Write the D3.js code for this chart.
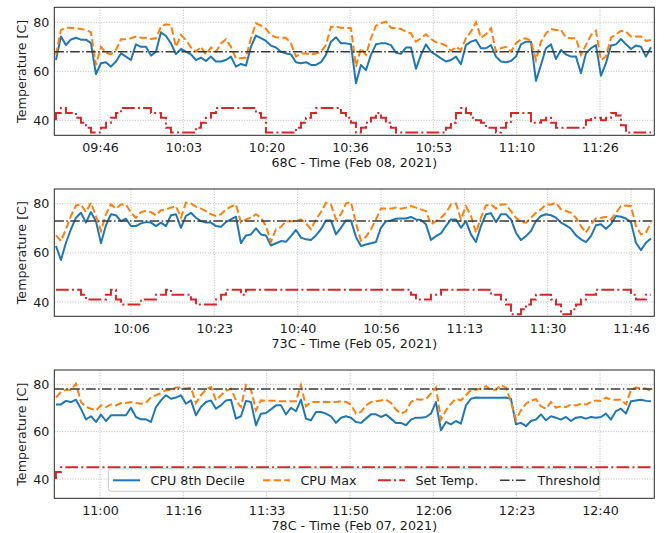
<!DOCTYPE html>
<html><head><meta charset="utf-8">
<script src="https://cdn.jsdelivr.net/npm/d3@7"></script>
<style>body{margin:0;background:#fff}svg{display:block}text{font-family:"DejaVu Sans",sans-serif;fill:#1a1a1a}</style>
</head><body><svg id="chart" width="672" height="533"></svg>
<script>
// ---------- DATA ----------
const seriesNames = ["CPU 8th Decile", "CPU Max", "Set Temp.", "Threshold"];
const sampleOffset = 0.33;   // minutes from left edge of first sample
const sampleStep = 1;        // minutes between samples
const yTicks = [40, 60, 80];

const p1Title = "68C - Time (Feb 08, 2021)";
const p1Threshold = 68;
const p1TickLabels = ["09:46", "10:03", "10:20", "10:36", "10:53", "11:10", "11:26"];
const p1TickMinutes = [9.14, 25.81, 42.47, 59.14, 75.81, 92.47, 109.14];
const p1Decile = [64.6,74.2,70.7,73,73.7,72.9,72.9,71.5,58.9,63.3,63.7,61.9,64,67.3,66,64.6,71,70,70,66.4,68,75.9,74.4,71.4,67,69.1,68,66.9,64.6,65.6,64.2,66,64,64,64.6,66,61.9,63,62.3,70,74.6,73.5,72.4,70.5,69.7,68,67.3,66.9,63.7,63.3,63.7,62.6,62.6,63.7,66.7,72.1,73.9,71.4,71.4,71,55.1,62.6,60.5,66.7,71,71.4,71.4,70.7,67.6,67.1,69.7,69.7,61,66.7,71,68,66.7,65.3,64,64.6,66,62.9,70.7,72.1,72.8,69.4,69.4,70.7,66,64,63.7,64.2,66,71,72.1,72.1,56.1,62.6,69.4,71,65,68.7,66.9,66,66,59.2,67.3,69.4,70.7,58.2,63.3,70.5,71,73.2,71,69.1,70.5,70,66,69.8];
const p1Max = [66.7,76.9,77.8,77.8,77.6,77.3,76.9,75.9,62.6,70,67.6,66.9,68.7,73.1,73.1,73.5,74.2,73.7,73.7,73.2,73.5,78.2,79.2,78.9,70,74.8,72.8,69.7,68,70,66.9,69.7,68,71.4,73.1,70,65.3,65.3,65.6,73.5,79.6,78.6,77.3,74.8,73.9,73.7,73.7,71.4,66,67.3,67.3,66.9,67.3,68,70.7,78.2,78.2,77.8,77.8,77.6,61.9,69.4,66.7,73.5,78.6,79.6,80.3,77.8,77.6,77.3,76.2,75.5,72.1,73.5,75.1,73.2,71.8,71.4,70.5,68.3,70,68.7,73.5,76.2,80,73.7,75.1,77.6,68,69.4,70,68,71.4,73.1,73.5,72.4,64.6,72.1,75.5,77.3,76.9,76.9,73.7,73.5,73.5,66.7,70.7,74.8,76.5,64.6,66,73.7,75.1,76.5,76.2,74.2,74.2,74.2,72.4,72.8];
const p1Set = [40,43,45,43,43,41,39,37,35,35,37,39,41,43,45,45,45,45,45,45,43,43,41,37,35,35,35,35,35,37,39,41,43,45,45,45,45,45,45,45,45,43,41,35,35,35,35,35,35,37,39,41,43,45,45,45,45,45,43,41,39,35,37,39,41,43,41,39,37,35,35,35,35,35,35,35,35,35,35,37,39,43,45,43,41,40,39,37,37,35,37,39,43,43,43,43,39,39,40,41,39,37,37,37,37,37,37,40,41,41,40,41,43,42,38,35,35,35,35,35];

const p2Title = "73C - Time (Feb 05, 2021)";
const p2Threshold = 73;
const p2TickLabels = ["10:06", "10:23", "10:40", "10:56", "11:13", "11:30", "11:46"];
const p2TickMinutes = [15.34, 32.01, 48.67, 65.34, 82.01, 98.67, 115.34];
const p2Decile = [62.8,57.1,64.1,69.6,74.3,76.3,72.3,76.6,72.9,63.9,71.2,75.7,75.3,72.9,73.9,70.9,70.9,72,72.5,72.3,70.9,72.3,70.9,75.3,75.7,70.2,75,76.3,74.3,72.9,72.3,72.3,70.9,70.6,72.5,73.6,74.7,63.9,67.1,67.5,70,67.5,67.1,63,63.9,64.8,64.5,66.8,69.3,66.2,65.5,65.2,67.1,69.6,73.2,73.2,67.5,70.2,73.2,73.2,66.5,62.8,63.4,63.9,64.4,70.2,72.9,73.2,73.9,74,74,74.6,73.6,73.4,71.6,65.2,66.8,67.9,70.9,73.6,73.6,70.2,72.9,67.5,64.4,70.9,75.7,76.1,72.5,75.7,75.7,73.6,68.2,65.2,66.8,68.9,72.9,75,75.7,75.3,74.3,72.3,71.2,69.8,67.1,65.5,64.4,66.8,71.2,71.6,69.8,71.6,75,74.7,74,72.5,64.1,61.1,64.1,65.8];
const p2Max = [67.1,64.8,69.6,75,79.3,79.7,76.6,80.4,75,68.9,75.7,79.7,78,79.7,79.7,76.3,74.3,76.6,77,76.6,75.3,77.4,77.7,78.4,79,74.3,80.4,80.1,78.8,78,77,75.7,75,75.7,77.7,78.8,79.7,72.3,73.6,74.3,75.7,74.3,70.9,64.4,69.6,70.6,72.9,72.9,72.9,73.6,72,69.6,73.6,76.6,80.4,79.7,73.6,75.7,80.1,80.7,72,65,66.5,69.6,73.6,78,78,78,78.4,78,78.4,79,78.4,77.7,77,71.6,72.9,74.3,76.3,79.7,80.1,73.6,79,75,68.2,74.3,79.3,79.7,78,79.7,79.7,77,74.3,72.5,72.3,74.3,76.3,77.7,79.7,79.7,80.4,77.7,77,76.3,74.3,70.9,68.2,71.6,74,74.3,74.7,73.6,76.3,79,79.3,79,70.9,67.5,68.2,72.3];
const p2Set = [45,45,45,45,45,45,43,41,41,41,41,43,45,41,39,39,39,39,41,41,41,43,43,45,43,43,43,43,41,39,39,39,39,41,43,45,45,45,43,45,45,45,45,45,45,45,45,45,45,45,45,45,45,45,45,45,45,45,45,45,45,45,45,45,45,45,45,45,45,45,45,45,43,41,41,41,43,43,45,45,45,45,45,45,45,45,45,45,43,43,41,39,35,35,37,39,41,43,43,43,41,39,35,35,37,39,41,43,43,45,45,45,45,45,45,45,43,41,41,43];

const p3Title = "78C - Time (Feb 07, 2021)";
const p3Threshold = 78;
const p3TickLabels = ["11:00", "11:16", "11:33", "11:50", "12:06", "12:23", "12:40"];
const p3TickMinutes = [9.14, 25.81, 42.47, 59.14, 75.81, 92.47, 109.14];
const p3Decile = [71.5,71.5,73,72.5,73.5,69.7,65.2,66.5,64.1,67.2,64.5,66.9,66.9,66.9,66.9,70.1,66.2,65.2,65.2,64.1,70.4,73.2,75.4,73.9,74.4,75.4,71.8,73.2,66.9,70.4,72.5,73.2,69.7,71.1,73.2,73.5,65.5,66.5,73,72.5,62.7,67.6,67.9,69.4,71.1,71.1,67.3,70.1,68.6,73.5,65.5,64.8,68.3,68.3,67.6,66.5,63.7,65.9,66.5,65.9,64.1,63.7,65.5,67.3,67.3,66.2,67.2,65.5,63.7,63.7,62.7,65.1,65.9,65.9,66.2,67.6,72.5,60.6,64.1,63.1,64.5,63.4,71.1,73.9,74.4,74.3,74.3,74.3,74.3,74.3,74.4,73.9,63.1,63.7,62.3,64.5,65.1,67.3,64.8,66.5,65.9,65.1,66.2,64.5,65.9,66.2,65.5,66.2,65.9,66.2,67.6,65.1,68.7,69.7,67.6,72.8,73.2,73.5,73,72.8];
const p3Max = [74.4,76.8,77.7,77.7,80.3,72.5,70.4,69.7,69,71.1,70.4,71.5,71.1,72.1,72.1,72.5,72.1,71.8,72.1,74.6,75.4,76.3,77.5,77.7,78.6,78.6,78.2,78.6,72.1,75.4,77.7,78.9,73.2,75.4,77.2,78.2,73.2,70.4,79.6,77.7,69,73.2,73,73,73,72.8,72.8,72.8,72.8,79.6,70.7,72.5,72.5,72.5,72.5,72.5,72.5,72.8,72.5,71.5,67.6,68.3,71.1,72.5,72.8,73.2,73.5,72.1,69.3,67.6,68.6,72.5,73.7,73.5,73.8,76.1,78.6,65.1,69,71.8,73.9,73.2,75.4,77.7,77.7,78.2,79.2,77.7,77.7,79.6,78.6,72.5,65.1,69,71.8,73.2,73.7,70.7,69.7,72.5,70.1,70.7,70.4,71.5,71.1,71.8,71.5,72.5,73.2,73,74.4,73.5,73.5,73.5,71.5,77.7,78.6,78.2,78.2,77.2];
const p3Set = [40,43,45,45,45,45,45,45,45,45,45,45,45,45,45,45,45,45,45,45,45,45,45,45,45,45,45,45,45,45,45,45,45,45,45,45,45,45,45,45,45,45,45,45,45,45,45,45,45,45,45,45,45,45,45,45,45,45,45,45,45,45,45,45,45,45,45,45,45,45,45,45,45,45,45,45,45,45,45,45,45,45,45,45,45,45,45,45,45,45,45,45,45,45,45,45,45,45,45,45,45,45,45,45,45,45,45,45,45,45,45,45,45,45,45,45,45,45,45,45];

// ---------- LAYOUT / STYLE ----------
const colors = {decile: "#1f77b4", max: "#ff7f0e", set: "#d62728", thr: "#3a3a3a"};
const plotLeft = 54.3, plotRight = 654.3;
const panels = [
  {title: p1Title, thr: p1Threshold, tickLabels: p1TickLabels, tickMin: p1TickMinutes, decile: p1Decile, max: p1Max, set: p1Set, top: 7.3, bottom: 135.3, yDom: [33.88, 86.12], legend: false},
  {title: p2Title, thr: p2Threshold, tickLabels: p2TickLabels, tickMin: p2TickMinutes, decile: p2Decile, max: p2Max, set: p2Set, top: 189, bottom: 316.3, yDom: [34.18, 85.98], legend: false},
  {title: p3Title, thr: p3Threshold, tickLabels: p3TickLabels, tickMin: p3TickMinutes, decile: p3Decile, max: p3Max, set: p3Set, top: 370, bottom: 498.3, yDom: [31.85, 86.04], legend: true}
];
const FS = 12.7;

const svg = d3.select("#chart");
const x = d3.scaleLinear().domain([0, 120]).range([plotLeft, plotRight]);

panels.forEach((p, pi) => {
  const y = d3.scaleLinear().domain(p.yDom).range([p.bottom, p.top]);
  const g = svg.append("g");
  const clipId = "clip" + pi;
  svg.append("clipPath").attr("id", clipId).append("rect")
    .attr("x", plotLeft).attr("y", p.top).attr("width", plotRight - plotLeft).attr("height", p.bottom - p.top);

  // grid
  const grid = g.append("g").attr("stroke", "#b0b0b0").attr("stroke-width", 0.9).attr("stroke-dasharray", "1,1.6");
  p.tickMin.forEach(t => grid.append("line").attr("x1", x(t)).attr("x2", x(t)).attr("y1", p.top).attr("y2", p.bottom));
  yTicks.forEach(t => grid.append("line").attr("x1", plotLeft).attr("x2", plotRight).attr("y1", y(t)).attr("y2", y(t)));

  // axes via d3 axis (labels only)
  const xAxis = d3.axisBottom(x).tickValues(p.tickMin).tickFormat((d, i) => p.tickLabels[i]).tickSize(0).tickPadding(5);
  const xa = g.append("g").attr("transform", `translate(0,${p.bottom})`).call(xAxis);
  xa.select(".domain").remove();
  xa.selectAll("text").attr("font-size", FS).attr("font-family", "DejaVu Sans").attr("fill", "#1a1a1a").attr("dy", "0.95em");
  const yAxis = d3.axisLeft(y).tickValues(yTicks).tickSize(0).tickPadding(5);
  const ya = g.append("g").attr("transform", `translate(${plotLeft},0)`).call(yAxis);
  ya.select(".domain").remove();
  ya.selectAll("text").attr("font-size", FS).attr("font-family", "DejaVu Sans").attr("fill", "#1a1a1a");

  const xs = i => x(sampleOffset + i * sampleStep);
  const lines = g.append("g").attr("clip-path", `url(#${clipId})`).attr("fill", "none");
  const lineLin = d3.line().x((d, i) => xs(i)).y(d => y(d));
  const lineStep = d3.line().x((d, i) => xs(i)).y(d => y(d)).curve(d3.curveStepBefore);
  lines.append("path").attr("d", lineLin(p.decile)).attr("stroke", colors.decile).attr("stroke-width", 2).attr("stroke-linejoin", "round");
  lines.append("path").attr("d", lineLin(p.max)).attr("stroke", colors.max).attr("stroke-width", 2).attr("stroke-dasharray", "7.4,3.2");
  lines.append("path").attr("d", lineStep(p.set)).attr("stroke", colors.set).attr("stroke-width", 2).attr("stroke-dasharray", "12.8,3.2,2,3.2");
  lines.append("line").attr("x1", plotLeft).attr("x2", plotRight).attr("y1", y(p.thr)).attr("y2", y(p.thr))
    .attr("stroke", colors.thr).attr("stroke-width", 1.5).attr("stroke-dasharray", "9.6,2.4,1.5,2.4");

  // frame
  g.append("rect").attr("x", plotLeft).attr("y", p.top).attr("width", plotRight - plotLeft).attr("height", p.bottom - p.top)
    .attr("fill", "none").attr("stroke", "#262626").attr("stroke-width", 1);

  // labels
  g.append("text").attr("x", (plotLeft + plotRight) / 2).attr("y", p.bottom + 31.7).attr("text-anchor", "middle").attr("font-size", FS).text(p.title);
  g.append("text").attr("transform", `translate(25.5,${(p.top + p.bottom) / 2}) rotate(-90)`).attr("text-anchor", "middle").attr("font-size", FS).text("Temperature [C]");

  if (p.legend) {
    const lg = g.append("g");
    lg.append("rect").attr("x", 108.3).attr("y", 468.8).attr("width", 491).attr("height", 22.5).attr("rx", 3)
      .attr("fill", "#fff").attr("fill-opacity", 0.8).attr("stroke", "#cccccc").attr("stroke-width", 1);
    const items = [
      {name: seriesNames[0], c: colors.decile, dash: null, w: 2, x0: 113},
      {name: seriesNames[1], c: colors.max, dash: "7.4,3.2", w: 2, x0: 263},
      {name: seriesNames[2], c: colors.set, dash: "12.8,3.2,2,3.2", w: 2, x0: 378},
      {name: seriesNames[3], c: colors.thr, dash: "9.6,2.4,1.5,2.4", w: 1.5, x0: 500}
    ];
    items.forEach(it => {
      const l = lg.append("line").attr("x1", it.x0).attr("x2", it.x0 + 27).attr("y1", 480.3).attr("y2", 480.3)
        .attr("stroke", it.c).attr("stroke-width", it.w);
      if (it.dash) l.attr("stroke-dasharray", it.dash);
      lg.append("text").attr("x", it.x0 + 37.5).attr("y", 484.6).attr("font-size", FS).text(it.name);
    });
  }
});
</script></body></html>
